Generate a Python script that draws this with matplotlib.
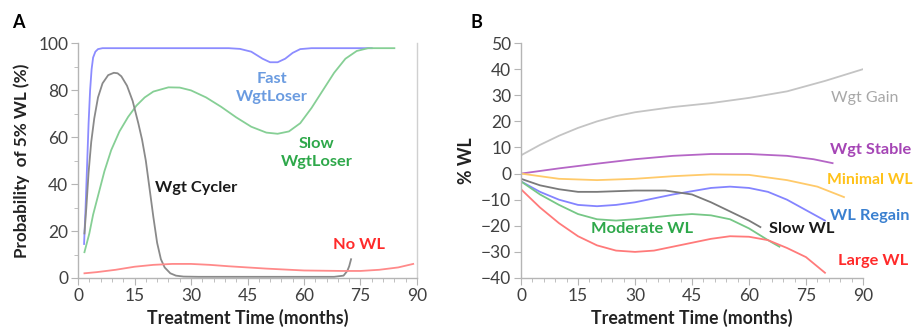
import matplotlib
matplotlib.use("Agg")
import matplotlib.pyplot as plt
from matplotlib.ticker import MultipleLocator

plt.rcParams['font.family'] = ['Lato', 'DejaVu Sans']

# ---------------- Panel A data ----------------
fast_x = [1.6, 2.0, 2.4, 2.8, 3.2, 3.6, 4.0, 4.6, 5.3, 6.5, 10, 20, 30, 40, 43, 46, 49, 51, 53, 55, 57, 59, 62, 70, 78]
fast_y = [14.5, 30, 48, 66, 80, 89, 94, 96.5, 97.6, 98, 98, 98, 98, 98, 97.7, 96.5, 93.5, 92, 92, 93.5, 96, 97.6, 98, 98, 98]

slow_x = [1.7, 3, 4, 5.3, 7, 8.8, 11, 13.3, 15.5, 17.7, 20, 24, 27, 30, 34, 38, 42, 46, 50, 53, 56, 59, 62, 65, 68, 71, 74, 77, 80, 84]
slow_y = [11, 19, 27, 35, 45.5, 54.5, 62.5, 68.7, 73.5, 77, 79.5, 81.3, 81.2, 80, 77, 73, 68.5, 64.5, 62, 61.5, 62.5, 66, 72.5, 80, 87.5, 93.5, 96.8, 98, 98, 98]

cyc_x = [1.7, 2.2, 2.8, 3.5, 4.3, 5.3, 6.5, 8, 9.5, 10.5, 11.5, 13, 14.5, 16, 17, 18, 19, 20, 21, 22, 23, 24.5, 26, 28, 32, 40, 50, 60, 68, 70.5, 71.5, 72, 72.5]
cyc_y = [19, 30, 45, 58, 68, 77, 83, 86.5, 87.5, 87.3, 86, 82, 75.5, 66, 59, 50, 38, 26, 15, 8, 4.5, 2, 1, 0.6, 0.5, 0.5, 0.5, 0.5, 0.5, 1, 3, 5, 8]

nowl_x = [1.7, 5, 10, 15, 20, 25, 30, 35, 40, 50, 60, 70, 75, 80, 85, 89]
nowl_y = [2, 2.5, 3.5, 4.8, 5.6, 6, 6, 5.6, 5, 4, 3.2, 3, 3, 3.5, 4.5, 6]

# ---------------- Panel B data ----------------
gain_x = [0, 5, 10, 15, 20, 25, 30, 40, 50, 60, 70, 80, 90]
gain_y = [7, 11, 14.5, 17.5, 20, 22, 23.5, 25.5, 27, 29, 31.5, 35.5, 40]

stable_x = [0, 10, 20, 30, 40, 50, 60, 70, 77, 82]
stable_y = [0, 2, 3.8, 5.5, 6.8, 7.5, 7.5, 6.8, 5.5, 4]

minimal_x = [0, 10, 20, 30, 40, 50, 60, 70, 78, 85]
minimal_y = [0, -2, -2.5, -2, -1, -0.3, -0.5, -2.5, -5, -9]

regain_x = [0, 5, 10, 15, 20, 25, 30, 40, 50, 55, 60, 65, 70, 75, 80]
regain_y = [-3, -7, -10, -12, -12.5, -12, -11, -8, -5.5, -5, -5.5, -7, -10, -14, -18]

slowwl_x = [0, 5, 10, 15, 20, 30, 38, 45, 50, 55, 60, 63]
slowwl_y = [-2, -4.5, -6, -7, -7, -6.5, -6.5, -8, -11, -14.5, -18, -20.5]

moder_x = [0, 5, 10, 15, 20, 25, 30, 40, 45, 50, 55, 60, 65, 68]
moder_y = [-3, -8, -12, -15.5, -17.5, -18, -17.5, -16, -15.5, -16, -17.5, -21, -25.5, -28]

large_x = [0, 5, 10, 15, 20, 25, 30, 35, 40, 45, 50, 55, 60, 65, 70, 75, 80]
large_y = [-6, -13, -19, -24, -27.5, -29.5, -30, -29.5, -28, -26.5, -25, -24, -24.2, -25.5, -28.5, -32, -38]

xticks = [0, 15, 30, 45, 60, 75, 90]
yticks_a = [0, 20, 40, 60, 80, 100]
yticks_b = [-40, -30, -20, -10, 0, 10, 20, 30, 40, 50]

spine_c = '#b5b5b5'
lw = 1.3

fig = plt.figure(figsize=(9.16, 3.34), dpi=100)
axA = fig.add_axes([0.0852, 0.1677, 0.37, 0.7021])
axB = fig.add_axes([0.5688, 0.1677, 0.3733, 0.7033])


def style(ax, yt):
    ax.spines['top'].set_visible(False)
    for s in ['left', 'bottom', 'right']:
        ax.spines[s].set_color(spine_c)
        ax.spines[s].set_linewidth(1.0)
    ax.set_xticks(xticks)
    ax.set_yticks(yt)
    ax.xaxis.set_minor_locator(MultipleLocator(3))
    ax.tick_params(which='major', length=5, color=spine_c, labelsize=12.5, labelcolor='#404040', pad=2)
    ax.tick_params(which='minor', length=3, color=spine_c)
    ax.set_xlabel('Treatment Time (months)', fontsize=12.8, fontweight='bold', color='#222222', labelpad=4)


# Panel A
axA.plot(fast_x, fast_y, color='#8c8cff', lw=lw)
axA.plot(slow_x, slow_y, color='#86cf95', lw=lw)
axA.plot(cyc_x, cyc_y, color='#8a8a8a', lw=lw)
axA.plot(nowl_x, nowl_y, color='#ff8a8a', lw=lw)
axA.set_xlim(0, 90)
axA.set_ylim(0, 100)
style(axA, yticks_a)
axA.yaxis.set_minor_locator(MultipleLocator(10))
axA.spines['right'].set_color('#d0d0d0')
axA.set_ylabel('Probability  of 5% WL (%)', fontsize=12.3, fontweight='bold', color='#222222', labelpad=6)

lab = dict(fontsize=11.8, fontweight='bold', linespacing=1.35)
axA.text(51.4, 81, 'Fast\nWgtLoser', color='#6a9be0', ha='center', va='center', **lab)
axA.text(63.4, 53.4, 'Slow\nWgtLoser', color='#2ea84a', ha='center', va='center', **lab)
axA.text(20.4, 38.2, 'Wgt Cycler', color='#1a1a1a', ha='left', va='center', **lab)
axA.text(67.8, 14, 'No WL', color='#ff2a2a', ha='left', va='center', **lab)

# Panel B
axB.plot(gain_x, gain_y, color='#c4c4c4', lw=lw)
axB.plot(stable_x, stable_y, color='#b566c6', lw=lw)
axB.plot(minimal_x, minimal_y, color='#ffca6a', lw=lw)
axB.plot(regain_x, regain_y, color='#8484ff', lw=lw)
axB.plot(slowwl_x, slowwl_y, color='#7a7a7a', lw=lw)
axB.plot(moder_x, moder_y, color='#76c786', lw=lw)
axB.plot(large_x, large_y, color='#ff7a7a', lw=lw)
axB.set_xlim(0, 90)
axB.set_ylim(-40, 50)
style(axB, yticks_b)
axB.spines['right'].set_visible(False)
axB.set_ylabel('% WL', fontsize=12.8, fontweight='bold', color='#222222', labelpad=4)

axB.text(81.7, 28.8, 'Wgt Gain', color='#a8a8a8', ha='left', va='center', fontsize=11.5, clip_on=False)
axB.text(81.2, 9, 'Wgt Stable', color='#a545b5', ha='left', va='center', clip_on=False, **lab)
axB.text(80.6, -2.4, 'Minimal WL', color='#ffc21a', ha='left', va='center', clip_on=False,
         fontsize=11.3, fontweight='bold')
axB.text(81.2, -16.2, 'WL Regain', color='#3a80d0', ha='left', va='center', clip_on=False, **lab)
axB.text(83.5, -33.5, 'Large WL', color='#ff2a2a', ha='left', va='center', clip_on=False, **lab)
axB.text(65.4, -21.3, 'Slow WL', color='#1a1a1a', ha='left', va='center', **lab)
axB.text(18.5, -21.3, 'Moderate WL', color='#2ea84a', ha='left', va='center', **lab)

fig.text(12 / 916, 1 - 22 / 334, 'A', fontsize=13, fontweight='bold', va='center', ha='left')
fig.text(470 / 916, 1 - 22 / 334, 'B', fontsize=13, fontweight='bold', va='center', ha='left')

fig.savefig('out.png', dpi=100)
